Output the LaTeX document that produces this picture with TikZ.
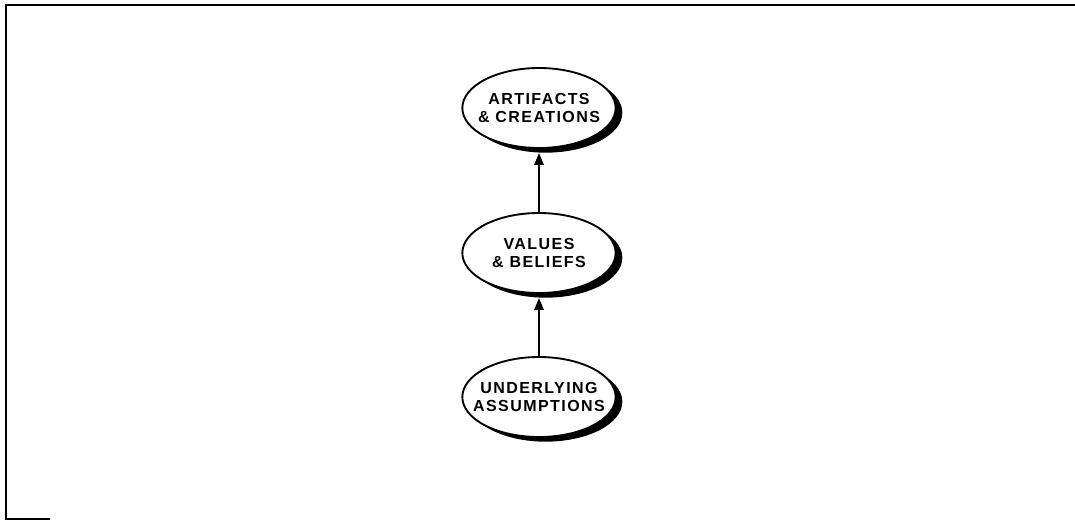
\documentclass[tikz,border=0pt]{standalone}
\usepackage{fontspec}
\setmainfont{Liberation Sans}
\newfontfamily\capsfont[LetterSpace=9]{Liberation Sans}
\usetikzlibrary{shapes.geometric,shadows,arrows.meta}

\begin{document}
\begin{tikzpicture}[
    x=0.75pt, y=-0.75pt,
    level/.style   = {ellipse, draw, fill=white, line width=1.4pt,
                      minimum width=115pt, minimum height=60pt,
                      inner xsep=-9pt, inner ysep=0pt,
                      align=center, font=\capsfont\bfseries\fontsize{12}{13.8}\selectfont,
                      drop shadow={shadow xshift=5pt, shadow yshift=-3.5pt,
                                   opacity=1, fill=black}},
    arrow/.style   = {-{Triangle[length=9pt, width=7pt]}, line width=1.4pt,
                      shorten >=3pt},
    frame/.style   = {line width=1.6pt}
]
\useasboundingbox (0,0) rectangle (1075,521);
% open frame round the figure
\draw[frame] (1075,5) -- (6,5) -- (6,519) -- (50,519);

\node[level] (artifacts)   at (539,108) {ARTIFACTS\\\& CREATIONS};
\node[level] (values)      at (539,253) {VALUES\\\& BELIEFS};
\node[level] (assumptions) at (539,397) {UNDERLYING\\ASSUMPTIONS};

\draw[arrow] (values)      -- (artifacts);
\draw[arrow] (assumptions) -- (values);
\end{tikzpicture}
\end{document}
